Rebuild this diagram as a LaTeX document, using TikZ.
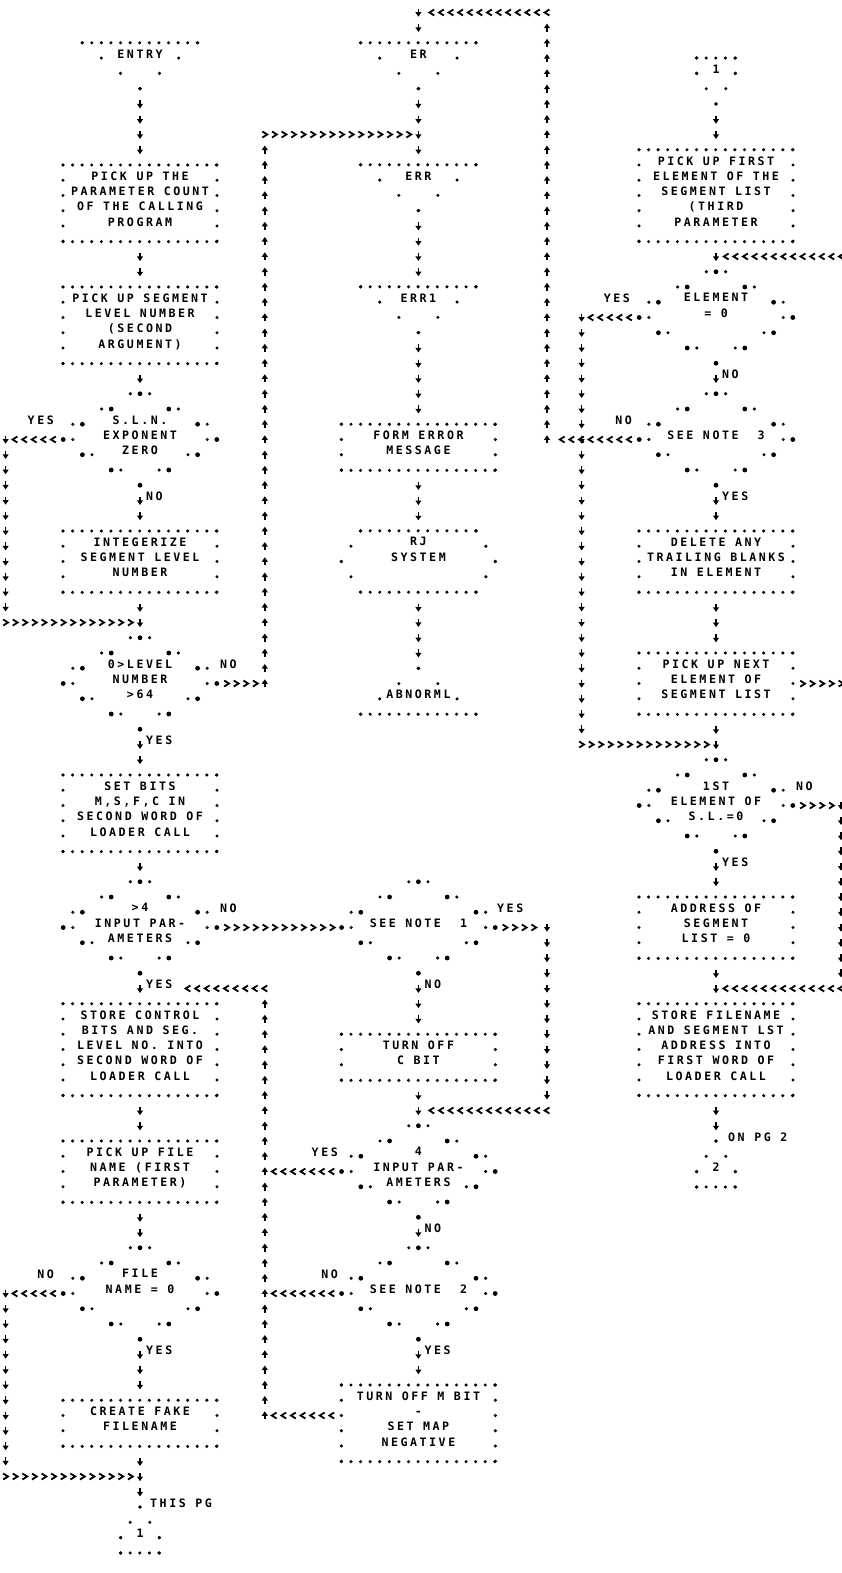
\documentclass[tikz,border=0pt]{standalone}
\usepackage{fontspec}
\usetikzlibrary{decorations.markings}
\newfontfamily\lpfont{DejaVu Sans Mono}[LetterSpace=22]

\newcommand\vtip{\draw[line width=1.7pt] (-3.8pt,0pt) -- (0.6pt,0pt);
    \fill (4.2pt,0pt) -- (-0.4pt,3.1pt) -- (-0.4pt,-3.1pt) -- cycle;}
\newcommand\htip{\draw[line width=1.8pt, line join=miter] (-2.4pt,3pt) -- (2.4pt,0pt) -- (-2.4pt,-3pt);}
\newcommand\decframe[1]{%
    \foreach \dx/\dy in {0/-3, 28.8/-2, 57.6/-1, 76.8/0, 57.6/1, 28.8/2, 0/3,
            -28.8/-2, -57.6/-1, -76.8/0, -57.6/1, -28.8/2}
        {\fill ([shift={(\dx,\dy)}]#1.center) circle (2.4pt);}
    \foreach \dx/\dy in {9.6/-3, 38.4/-2, 67.2/-1, 67.2/0, 48/1, 19.2/2,
            -9.6/-3, -38.4/-2, -67.2/-1, -67.2/0, -48/1, -19.2/2}
        {\fill ([shift={(\dx,\dy)}]#1.center) circle (1.7pt);}}

\begin{document}
\begin{tikzpicture}[x=1pt, y=-15.25pt,
        font=\lpfont\bfseries\fontsize{11.6pt}{15.25pt}\selectfont,
        dotline/.style={draw, line width=3.4pt, line cap=round},
        hdots/.style={dotline, dash pattern=on 0pt off 9.59pt},
        vdots/.style={dotline, dash pattern=on 0pt off 15.24pt},
        cdots/.style={dotline, dash pattern=on 0pt off 18.01pt},
        tdots/.style={dotline, dash pattern=on 0pt off 24.51pt},
        txt/.style={align=center, inner sep=0pt,
            execute at begin node={\rule{0pt}{9pt}},
            execute at end node={\rule[-9pt]{0pt}{9pt}}},
        proc/.style={txt, anchor=north, minimum width=153.6pt, minimum height=#1*15.25pt,
            append after command={
                (\tikzlastnode.north west) edge[hdots] (\tikzlastnode.north east)
                (\tikzlastnode.south west) edge[hdots] (\tikzlastnode.south east)
                (\tikzlastnode.north west) edge[vdots] (\tikzlastnode.south west)
                (\tikzlastnode.north east) edge[vdots] (\tikzlastnode.south east)}},
        decision/.style={txt, minimum width=153.6pt, minimum height=91.5pt},
        hexa/.style={txt, minimum width=153.6pt, minimum height=61pt,
            append after command={
                ([xshift=19.2pt]\tikzlastnode.north west) edge[hdots] ([xshift=-19.2pt]\tikzlastnode.north east)
                ([xshift=19.2pt]\tikzlastnode.south west) edge[hdots] ([xshift=-19.2pt]\tikzlastnode.south east)
                (\tikzlastnode.west) edge[cdots] ([xshift=19.2pt]\tikzlastnode.north west)
                (\tikzlastnode.west) edge[cdots] ([xshift=19.2pt]\tikzlastnode.south west)
                (\tikzlastnode.east) edge[cdots] ([xshift=-19.2pt]\tikzlastnode.north east)
                (\tikzlastnode.east) edge[cdots] ([xshift=-19.2pt]\tikzlastnode.south east)}},
        term/.style={inner sep=0pt, anchor=base, minimum width=115.2pt,
            execute at begin node={\rule{0pt}{15.25pt}},
            execute at end node={\rule[-30.5pt]{0pt}{30.5pt}},
            append after command={
                (\tikzlastnode.north west) edge[hdots] (\tikzlastnode.north east)
                (\tikzlastnode.north west) edge[tdots] (\tikzlastnode.south)
                (\tikzlastnode.north east) edge[tdots] (\tikzlastnode.south)}},
        termend/.style={inner sep=0pt, anchor=base, minimum width=115.2pt,
            execute at begin node={\rule{0pt}{30.5pt}},
            execute at end node={\rule[-15.25pt]{0pt}{15.25pt}},
            append after command={
                (\tikzlastnode.south west) edge[hdots] (\tikzlastnode.south east)
                (\tikzlastnode.south west) edge[tdots] (\tikzlastnode.north)
                (\tikzlastnode.south east) edge[tdots] (\tikzlastnode.north)}},
        pagein/.style={inner sep=0pt, anchor=base, minimum width=38.4pt,
            execute at begin node={\rule{0pt}{15.25pt}},
            execute at end node={\rule[-30.5pt]{0pt}{30.5pt}},
            append after command={
                (\tikzlastnode.north west) edge[hdots] (\tikzlastnode.north east)
                (\tikzlastnode.north west) edge[vdots] (\tikzlastnode.base west)
                (\tikzlastnode.north east) edge[vdots] (\tikzlastnode.base east)
                (\tikzlastnode.base west) edge[cdots] (\tikzlastnode.south)
                (\tikzlastnode.base east) edge[cdots] (\tikzlastnode.south)}},
        pageout/.style={inner sep=0pt, anchor=base, minimum width=38.4pt,
            execute at begin node={\rule{0pt}{30.5pt}},
            execute at end node={\rule[-15.25pt]{0pt}{15.25pt}},
            append after command={
                (\tikzlastnode.south west) edge[hdots] (\tikzlastnode.south east)
                (\tikzlastnode.south west) edge[vdots] (\tikzlastnode.base west)
                (\tikzlastnode.south east) edge[vdots] (\tikzlastnode.base east)
                (\tikzlastnode.base west) edge[cdots] (\tikzlastnode.north)
                (\tikzlastnode.base east) edge[cdots] (\tikzlastnode.north)}},
        lbl/.style={inner sep=0pt},
        vflow/.style={postaction={decorate, decoration={markings,
            mark=between positions 15.25pt and -14pt step 15.25pt with {\vtip}}}},
        vcflow/.style={postaction={decorate, decoration={markings,
            mark=between positions 0pt and -14pt step 15.25pt with {\vtip}}}},
        hflow/.style={postaction={decorate, decoration={markings,
            mark=between positions 9.6pt and -8.5pt step 9.6pt with {\htip}}}},
        hcflow/.style={postaction={decorate, decoration={markings,
            mark=between positions 0pt and -8.5pt step 9.6pt with {\htip}}}}]

        \useasboundingbox (0,-2.8197) rectangle (841,100.3279);
        \fill[white] (0,-2.8197) rectangle (841,100.3279);

        \node[term] (entry) at (140,1) {ENTRY};
        \node[proc=5] (pickcount) at (140,8) {PICK UP THE\\PARAMETER COUNT\\OF THE CALLING\\PROGRAM};
        \node[proc=5] (picklevel) at (140,16) {PICK UP SEGMENT\\LEVEL NUMBER\\(SECOND\\ARGUMENT)};
        \node[decision] (expzero) at (140,26) {S.L.N.\\EXPONENT\\ZERO};
        \node[proc=4] (integerize) at (140,32) {INTEGERIZE\\SEGMENT LEVEL\\NUMBER};
        \node[decision] (levelrange) at (140,42) {0>LEVEL\\NUMBER\\>64};
        \node[proc=5] (setbits) at (140,48) {SET BITS\\M,S,F,C IN\\SECOND WORD OF\\LOADER CALL};
        \node[decision] (fourparams) at (140,58) {>4\\INPUT PAR-\\AMETERS};
        \node[proc=6] (storebits) at (140,63) {STORE CONTROL\\BITS AND SEG.\\LEVEL NO. INTO\\SECOND WORD OF\\LOADER CALL};
        \node[proc=4] (pickfile) at (140,72) {PICK UP FILE\\NAME (FIRST\\PARAMETER)};
        \node[decision] (filezero) at (140,82) {FILE\\NAME = 0\\\mbox{}};
        \node[proc=3] (fakename) at (140,89) {CREATE FAKE\\FILENAME};
        \node[pageout] (thispg) at (140,98) {1};

        \node[term] (er) at (418.4,1) {ER};
        \node[term] (err) at (418.4,9) {ERR};
        \node[term] (errone) at (418.4,17) {ERR1};
        \node[proc=3] (formmsg) at (418.4,25) {FORM ERROR\\MESSAGE};
        \node[hexa] (rjsys) at (418.4,34) {RJ\\SYSTEM\\\mbox{}};
        \node[termend] (abnorml) at (418.4,43) {ABNORML};
        \node[decision] (noteone) at (418.4,58) {SEE NOTE\ \ 1};
        \node[proc=3] (cbitoff) at (418.4,65) {TURN OFF\\C BIT};
        \node[decision] (fourexact) at (418.4,74) {4\\INPUT PAR-\\AMETERS};
        \node[decision] (notetwo) at (418.4,82) {SEE NOTE\ \ 2};
        \node[proc=5] (mbitoff) at (418.4,88) {TURN OFF M BIT\\-\\SET MAP\\NEGATIVE};

        \node[pagein] (pgone) at (716,2) {1};
        \node[proc=6] (pickfirst) at (716,7) {PICK UP FIRST\\ELEMENT OF THE\\SEGMENT LIST\\(THIRD\\PARAMETER};
        \node[decision] (elemzero) at (716,18) {ELEMENT\\= 0\\\mbox{}};
        \node[decision] (notethree) at (716,26) {SEE NOTE\ \ 3};
        \node[proc=4] (trimblanks) at (716,32) {DELETE ANY\\TRAILING BLANKS\\IN ELEMENT};
        \node[proc=4] (picknext) at (716,40) {PICK UP NEXT\\ELEMENT OF\\SEGMENT LIST};
        \node[decision] (firstzero) at (716,50) {1ST\\ELEMENT OF\\S.L.=0};
        \node[proc=4] (addrzero) at (716,56) {ADDRESS OF\\SEGMENT\\LIST = 0};
        \node[proc=6] (storename) at (716,63) {STORE FILENAME\\AND SEGMENT LST\\ADDRESS INTO\\FIRST WORD OF\\LOADER CALL};
        \node[pageout] (pgtwo) at (716,74) {2};

        \node[lbl, anchor=base east] (yesexp) at (54,25) {YES};
        \node[lbl, anchor=base west] (noexp) at (146,30) {NO};
        \node[lbl, anchor=base west] (norange) at (220,41) {NO};
        \node[lbl, anchor=base west] (yesrange) at (146,46) {YES};
        \node[lbl, anchor=base west] (nofour) at (220,57) {NO};
        \node[lbl, anchor=base west] (yesfour) at (146,62) {YES};
        \node[lbl, anchor=base east] (nofile) at (54,81) {NO};
        \node[lbl, anchor=base west] (yesfile) at (146,86) {YES};
        \node[lbl, anchor=base west] (thispgtext) at (150,96) {THIS PG};
        \node[lbl, anchor=base west] (yesnoteone) at (497,57) {YES};
        \node[lbl, anchor=base west] (nonoteone) at (424.4,62) {NO};
        \node[lbl, anchor=base east] (yesexact) at (338,73) {YES};
        \node[lbl, anchor=base west] (noexact) at (424.4,78) {NO};
        \node[lbl, anchor=base east] (nonotetwo) at (338,81) {NO};
        \node[lbl, anchor=base west] (yesnotetwo) at (424.4,86) {YES};
        \node[lbl, anchor=base east] (yeselem) at (630,17) {YES};
        \node[lbl, anchor=base west] (noelem) at (722,22) {NO};
        \node[lbl, anchor=base east] (nonotethree) at (632,25) {NO};
        \node[lbl, anchor=base west] (yesnotethree) at (722,30) {YES};
        \node[lbl, anchor=base west] (nofirst) at (796,49) {NO};
        \node[lbl, anchor=base west] (yesfirst) at (722,54) {YES};
        \node[lbl, anchor=base west] (onpgtwo) at (728,72) {ON PG 2};

        \coordinate (expyes) at (5.6,26);
        \coordinate (expjoin) at (5.6,38);
        \coordinate (fileno) at (5.6,82);
        \coordinate (filejoin) at (5.6,94);
        \coordinate (rangeno) at (264.8,42);
        \coordinate (errin) at (264.8,6);
        \coordinate (storeback) at (264.8,62);
        \coordinate (mbitback) at (264.8,90);
        \coordinate (ertop) at (418.4,-2);
        \coordinate (ercorner) at (547,-2);
        \coordinate (notethreeno) at (547,26);
        \coordinate (noteoneyes) at (547,58);
        \coordinate (cbitjoin) at (547,70);
        \coordinate (elemyes) at (581.6,18);
        \coordinate (elemjoin) at (581.6,46);
        \coordinate (firstno) at (841,50);
        \coordinate (firstjoin) at (841,62);
        \coordinate (nextout) at (851,42);
        \coordinate (nextback) at (851,14);

        \path[vflow] (entry.south) -- (pickcount.north);
        \path[vflow] (pickcount.south) -- (picklevel.north);
        \path[vflow] (picklevel.south) -- (expzero.north);
        \path[vflow] (expzero.south) -- (integerize.north);
        \path[vflow] (integerize.south) -- (levelrange.north);
        \path[vflow] (levelrange.south) -- (setbits.north);
        \path[vflow] (setbits.south) -- (fourparams.north);
        \path[vflow] (fourparams.south) -- (storebits.north);
        \path[vflow] (storebits.south) -- (pickfile.north);
        \path[vflow] (pickfile.south) -- (filezero.north);
        \path[vflow] (filezero.south) -- (fakename.north);
        \path[vflow] (fakename.south) -- (thispg.north);
        \path[hflow] (expzero.west) -- (expyes);
        \path[vcflow] (expyes) -- (expjoin);
        \path[hcflow] (expjoin) -- (expjoin -| integerize.south);
        \path[hflow] (filezero.west) -- (fileno);
        \path[vcflow] (fileno) -- (filejoin);
        \path[hcflow] (filejoin) -- (filejoin -| fakename.south);
        \path[hflow] (levelrange.east) -- (rangeno);
        \path[vcflow] (rangeno) -- (errin);
        \path[hcflow] (errin) -- (errin -| er.south);
        \path[hflow] (fourparams.east) -- (noteone.west);

        \path[vcflow] (ertop) -- (er.north);
        \path[vflow] (er.south) -- (err.north);
        \path[vflow] (err.south) -- (errone.north);
        \path[vflow] (errone.south) -- (formmsg.north);
        \path[vflow] (formmsg.south) -- (rjsys.north);
        \path[vflow] (rjsys.south) -- (abnorml.north);
        \path[vflow] (noteone.south) -- (cbitoff.north);
        \path[vflow] (cbitoff.south) -- (fourexact.north);
        \path[vflow] (fourexact.south) -- (notetwo.north);
        \path[vflow] (notetwo.south) -- (mbitoff.north);
        \path[hflow] (noteone.east) -- (noteoneyes);
        \path[vcflow] (noteoneyes) -- (cbitjoin);
        \path[hcflow] (cbitjoin) -- (cbitjoin -| cbitoff.south);
        \path[hflow] (fourexact.west) -- (fourexact.west -| storeback);
        \path[hflow] (notetwo.west) -- (notetwo.west -| storeback);
        \path[hflow] (mbitoff.west |- mbitback) -- (mbitback);
        \path[vcflow] (mbitback) -- (storeback);
        \path[hcflow] (storeback) -- (storeback -| yesfour.east);

        \path[vflow] (pgone.south) -- (pickfirst.north);
        \path[vflow] (pickfirst.south) -- (elemzero.north);
        \path[vflow] (elemzero.south) -- (notethree.north);
        \path[vflow] (notethree.south) -- (trimblanks.north);
        \path[vflow] (trimblanks.south) -- (picknext.north);
        \path[vflow] (picknext.south) -- (firstzero.north);
        \path[vflow] (firstzero.south) -- (addrzero.north);
        \path[vflow] (addrzero.south) -- (storename.north);
        \path[vflow] (storename.south) -- (pgtwo.north);
        \path[hflow] (elemzero.west) -- (elemyes);
        \path[vcflow] (elemyes) -- (elemjoin);
        \path[hcflow] (elemjoin) -- (elemjoin -| picknext.south);
        \path[hflow] (notethree.west) -- (notethreeno);
        \path[vcflow] (notethreeno) -- (ercorner);
        \path[hcflow] (ercorner) -- (ertop);
        \path[hflow] (picknext.east) -- (nextout);
        \path[vcflow] (nextout) -- (nextback);
        \path[hcflow] (nextback) -- (nextback -| pickfirst.south);
        \path[hflow] (firstzero.east) -- (firstno);
        \path[vcflow] (firstno) -- (firstjoin);
        \path[hcflow] (firstjoin) -- (firstjoin -| addrzero.south);

        \foreach \d in {expzero, levelrange, fourparams, filezero, noteone,
                fourexact, notetwo, elemzero, notethree, firstzero}
            {\decframe{\d}}
\end{tikzpicture}
\end{document}
